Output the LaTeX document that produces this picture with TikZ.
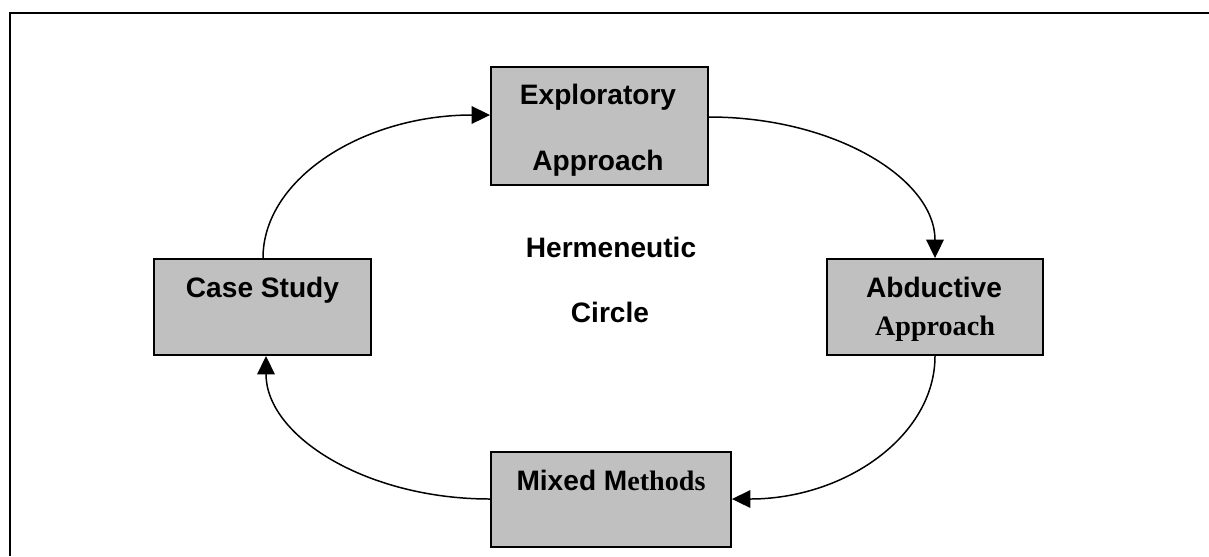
\documentclass[tikz,border=0pt]{standalone}
\usepackage{fontspec}
\setmainfont{Liberation Sans}
\newfontfamily\serifface{Liberation Serif}
\usetikzlibrary{arrows.meta,calc}
\definecolor{boxgray}{RGB}{192,192,192}
\begin{document}
\begin{tikzpicture}[x=0.02cm,y=-0.02cm,
  stagebox/.style={draw=black, line width=1.1pt, fill=boxgray, inner sep=0pt},
  lbl/.style={anchor=base, inner sep=0pt, font=\bfseries\fontsize{16}{19}\selectfont},
  flow/.style={draw=black, line width=0.85pt, -{Triangle[length=10.5pt,width=10pt]}}]
  % page extent and frame
  \useasboundingbox (0,0) rectangle (1209,556);
  \draw[line width=1.2pt] (10,556) -- (10,13) -- (1209,13);

  % stages of the cycle
  \node[stagebox, minimum width=4.34cm, minimum height=2.36cm] (expl) at (599.5,126) {};
  \node[stagebox, minimum width=4.32cm, minimum height=1.92cm] (abd) at (935,307) {};
  \node[stagebox, minimum width=4.34cm, minimum height=1.92cm] (cs) at (262.5,307) {};
  \node[stagebox, minimum width=4.80cm, minimum height=1.90cm] (mm) at (611,499.5) {};

  % labels
  \node[lbl] (explA) at (598,104) {Exploratory};
  \node[lbl] (explB) at (598,170) {Approach};
  \node[lbl] (abdA) at (934,297) {Abductive};
  \node[lbl] (abdB) at (935,335) {\serifface Approach};
  \node[lbl] (csA) at (262.5,297) {Case Study};
  \node[lbl] (mmA) at (611,490) {Mixed M{\serifface ethods}};
  \node[lbl] (herA) at (611,257) {Hermeneutic};
  \node[lbl] (herB) at (610,322) {Circle};

  % connectors around the circle
  \draw[flow] ($(cs.north)+(0.5,0)$) .. controls +(0,-80) and +(-126,0) .. ($(expl.west)+(0,-11)$);
  \draw[flow] ($(expl.east)+(0,-9)$) .. controls +(126,0) and +(0,-79) .. (abd.north);
  \draw[flow] (abd.south) .. controls +(0,80) and +(113,0) .. ($(mm.east)+(0,-0.5)$);
  \draw[flow] ($(mm.west)+(0,-0.5)$) .. controls +(-124,0) and +(0,80) .. ($(cs.south)+(3.5,0)$);
\end{tikzpicture}
\end{document}
